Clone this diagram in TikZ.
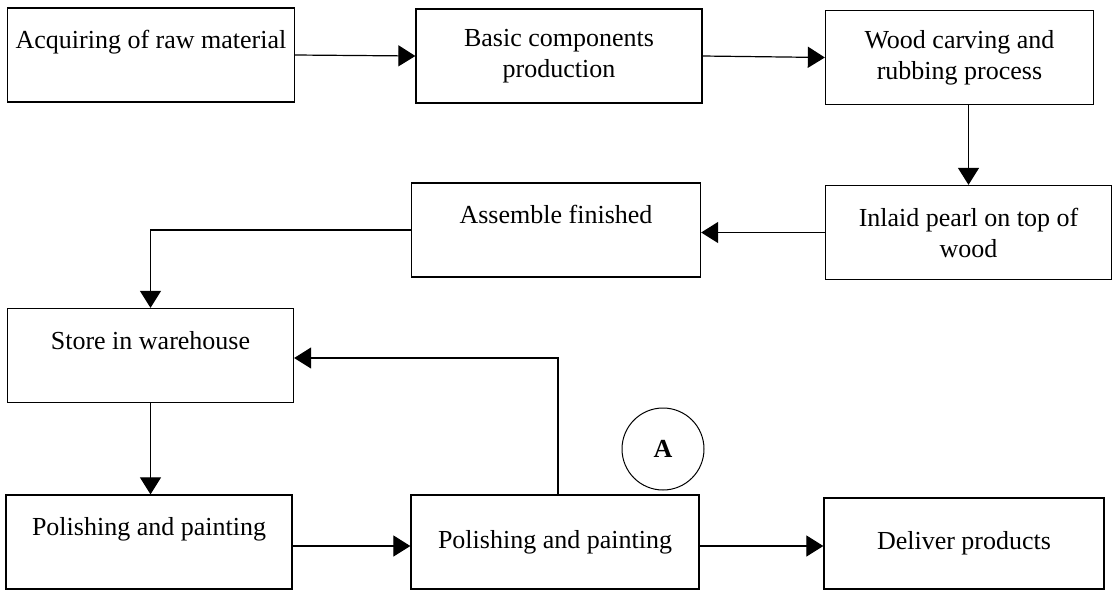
\documentclass[tikz,border=0pt]{standalone}
\usepackage{fontspec}
\setmainfont{Liberation Serif}
\usetikzlibrary{arrows.meta,positioning,calc}

\begin{document}
\begin{tikzpicture}[
    x=1pt, y=-1pt,
    font=\fontsize{26}{31}\selectfont,
    stage/.style={draw, line width=1.3pt, inner sep=0pt, align=center,
                  minimum width=#1, minimum height=94pt},
    flow/.style={line width=1.2pt, -{Triangle[length=17pt, width=21pt]}},
  ]
\useasboundingbox (0,0) rectangle (1116,590);

% top row
\node[stage=287pt] (acquire) at (151,55) {Acquiring of raw material\\ \mbox{}};
\node[stage=286pt] (basic) at (559,56) {Basic components\\ production};
\node[stage=268pt] (carving) at (959.5,57.5) {Wood carving and\\ rubbing process};

% second row
\node[stage=286pt] (inlaid) at (968.5,232.5) {Inlaid pearl on top of\\ wood};
\node[stage=289pt] (assemble) at (556,230) {Assemble finished\\ \mbox{}};

% store and polishing
\node[stage=286pt] (store) at (150.5,355.5) {Store in warehouse\\ \mbox{}};
\node[stage=286pt] (polisha) at (149,542) {Polishing and painting\\ \mbox{}};
\node[stage=288pt] (polishb) at (555,542) {Polishing and painting};
\node[stage=280pt, minimum height=91pt] (deliver) at (964,543.5) {Deliver products};

\node[draw, circle, line width=1pt, minimum size=82pt, inner sep=0pt,
      font=\fontsize{26}{31}\selectfont\bfseries] (markA) at (663,449) {A};

\coordinate (outb) at ([yshift=-4pt]polishb.east);

\draw[flow] (acquire.east) -- (basic.west);
\draw[flow] (basic.east) -- (carving.west);
\draw[flow] (carving.south -| inlaid.north) -- (inlaid.north);
\draw[flow] (inlaid.west) -- (assemble.east |- inlaid.west);
\draw[flow] (assemble.west) -| (store.north);
\draw[flow] (store.south) -- (store.south |- polisha.north);
\draw[flow] ([yshift=-4pt]polisha.east) -- ([yshift=-4pt]polishb.west);
\draw[flow] (outb) -- (deliver.west |- outb);
\draw[flow] ([xshift=3pt]polishb.north) |- ([yshift=-2.5pt]store.east);

\end{tikzpicture}
\end{document}
